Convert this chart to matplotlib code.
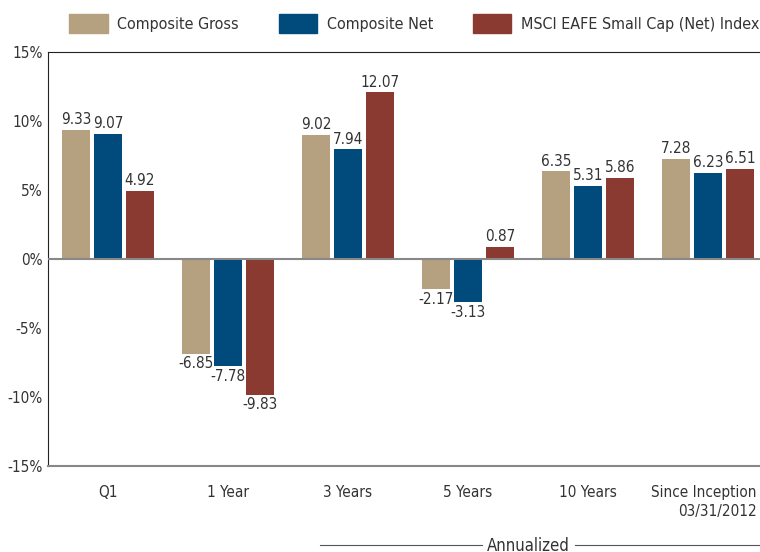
import matplotlib.pyplot as plt
import matplotlib.transforms as mtransforms
import numpy as np
from matplotlib.lines import Line2D
from matplotlib.patches import Patch

categories = ["Q1", "1 Year", "3 Years", "5 Years", "10 Years", "Since Inception\n03/31/2012"]
gross = [9.33, -6.85, 9.02, -2.17, 6.35, 7.28]
net = [9.07, -7.78, 7.94, -3.13, 5.31, 6.23]
index = [4.92, -9.83, 12.07, 0.87, 5.86, 6.51]
series_names = ["Composite Gross", "Composite Net", "MSCI EAFE Small Cap (Net) Index"]
colors = ["#b5a07f", "#004a7c", "#8b3a32"]
yticks = [-15, -10, -5, 0, 5, 10, 15]

plt.rcParams['font.family'] = ['DejaVu Sans']
plt.rcParams['font.stretch'] = 'condensed'
text_color = "#333333"

fig = plt.figure(figsize=(7.6, 5.52), dpi=100)
ax = fig.add_axes([48 / 760, 86 / 552, 712 / 760, 414 / 552])

x = np.arange(len(categories))
width = 0.233
offset = 0.267

for i, (vals, c) in enumerate(zip([gross, net, index], colors)):
    xs = x + (i - 1) * offset
    ax.bar(xs, vals, width=width, color=c, zorder=2)
    for xi, v in zip(xs, vals):
        if v >= 0:
            ax.text(xi, v + 0.2, f"{v:.2f}", ha="center", va="bottom",
                    fontsize=11, color=text_color)
        else:
            ax.text(xi, v - 0.2, f"{v:.2f}", ha="center", va="top",
                    fontsize=11, color=text_color)

ax.axhline(0, color="#888888", linewidth=1.5, zorder=3)
ax.set_xlim(-0.5, 5.433)
ax.set_ylim(-15, 15)
ax.set_yticks(yticks)
ax.set_yticklabels([f"{t}%" for t in yticks], fontsize=11, color=text_color)
ax.set_xticks(x)
ax.set_xticklabels(categories, fontsize=11, color=text_color, linespacing=1.3,
                   multialignment="right")
ax.tick_params(axis="both", length=0, pad=4)
ax.tick_params(axis="x", pad=14)
last = ax.get_xticklabels()[-1]
last.set_transform(last.get_transform() +
                   mtransforms.ScaledTranslation(-4 / 100, 0, fig.dpi_scale_trans))

ax.spines["right"].set_visible(False)
ax.spines["top"].set_color("#222222")
ax.spines["left"].set_color("#222222")
ax.spines["bottom"].set_color("#888888")
ax.spines["bottom"].set_linewidth(1.5)

handles = [Patch(color=c) for c in colors]
fig.legend(handles, series_names, loc="upper left", bbox_to_anchor=(55 / 760, 1.0),
           ncol=3, frameon=False, fontsize=11.5, handlelength=2.4, handleheight=1.4,
           columnspacing=2.5, handletextpad=0.6, labelcolor=text_color)

fig.add_artist(Line2D([320 / 760, 482 / 760], [(552 - 545) / 552] * 2,
                      color="#555555", linewidth=0.8, transform=fig.transFigure))
fig.add_artist(Line2D([575 / 760, 760 / 760], [(552 - 545) / 552] * 2,
                      color="#555555", linewidth=0.8, transform=fig.transFigure))
fig.text(528 / 760, (552 - 546) / 552, "Annualized", ha="center", va="center",
         fontsize=12, color=text_color)

fig.savefig("out.png", dpi=100)
